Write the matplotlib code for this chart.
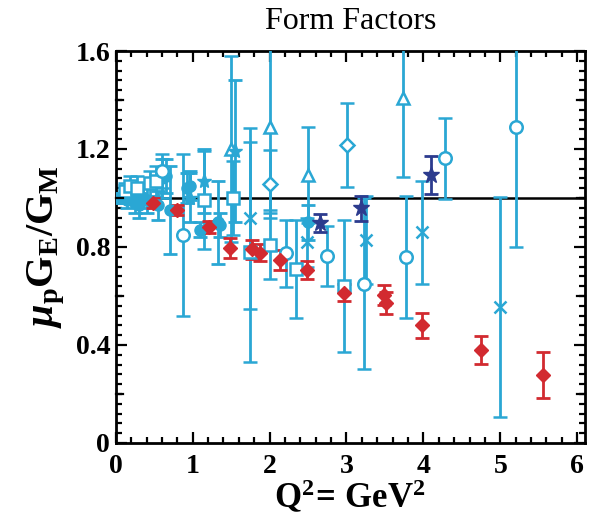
import numpy as np
import matplotlib.pyplot as plt
from matplotlib.ticker import MultipleLocator

plt.rcParams['font.family'] = ['Liberation Serif', 'DejaVu Serif']
plt.rcParams['mathtext.fontset'] = 'custom'
plt.rcParams['mathtext.rm'] = 'Liberation Serif:bold'
plt.rcParams['mathtext.it'] = 'Liberation Serif:italic:bold'
plt.rcParams['mathtext.bf'] = 'Liberation Serif:bold'

# recoil polarization (red diamonds)
red_q2 = [0.49, 0.79, 1.21, 1.49, 1.77, 1.88, 2.13, 2.48, 2.97, 3.49, 3.51, 3.98, 4.75, 5.55]
red_r = [0.98, 0.95, 0.88, 0.795, 0.79, 0.777, 0.747, 0.706, 0.613, 0.604, 0.571, 0.48, 0.38, 0.278]
red_err = [0.02, 0.02, 0.025, 0.04, 0.04, 0.035, 0.04, 0.035, 0.035, 0.04, 0.045, 0.05, 0.056, 0.093]

# dark blue stars
star_q2 = [2.65, 3.19, 4.10]
star_r = [0.899, 0.958, 1.094]
star_err = [0.037, 0.05, 0.078]

# cyan: filled circles
fc_q2 = [0.05, 0.10, 0.15, 0.20, 0.25, 0.30, 0.35, 0.40, 0.55, 0.60, 0.65, 0.70, 0.93, 0.97, 1.09, 1.33, 1.36, 2.50]
fc_r = [1.00, 1.00, 0.99, 1.01, 0.98, 0.97, 1.00, 0.99, 0.97, 1.08, 1.09, 0.95, 1.04, 1.05, 0.87, 0.90, 0.89, 0.90]
fc_err = [0.02, 0.02, 0.03, 0.03, 0.04, 0.05, 0.04, 0.05, 0.06, 0.08, 0.07, 0.18, 0.06, 0.06, 0.03, 0.17, 0.05, 0.07]

# cyan: open squares
sq_q2 = [0.12, 0.18, 0.28, 0.45, 0.52, 1.15, 1.52, 1.75, 2.00, 2.34, 2.97]
sq_r = [1.03, 1.05, 1.04, 1.06, 1.07, 0.99, 1.00, 0.78, 0.81, 0.71, 0.64]
sq_err = [0.03, 0.04, 0.05, 0.05, 0.06, 0.20, 0.15, 0.45, 0.14, 0.20, 0.27]

# cyan: open circles
oc_q2 = [0.60, 0.87, 2.21, 2.74, 3.23, 3.77, 4.28, 5.21]
oc_r = [1.11, 0.85, 0.775, 0.763, 0.65, 0.758, 1.162, 1.29]
oc_err = [0.07, 0.33, 0.137, 0.123, 0.35, 0.25, 0.165, 0.49]

# cyan: open triangles
tr_q2 = [1.50, 2.00, 2.50, 3.74]
tr_r = [1.20, 1.29, 1.094, 1.407]
tr_err = [0.38, 0.35, 0.195, 0.32]

# cyan: crosses
cx_q2 = [1.75, 2.48, 3.25, 3.98, 5.00]
cx_r = [0.917, 0.82, 0.83, 0.86, 0.556]
cx_err = [0.37, 0.10, 0.18, 0.21, 0.45]

# cyan: open diamonds
od_q2 = [2.00, 3.01]
od_r = [1.057, 1.216]
od_err = [0.14, 0.17]

# cyan: stars
cs_q2 = [0.97, 1.15, 1.55]
cs_r = [1.00, 1.07, 1.19]
cs_err = [0.10, 0.13, 0.29]

cyan = '#2aa7d4'
red = '#d22a30'
navy = '#2c3b8e'

fig = plt.figure(figsize=(6.03, 5.26), dpi=100)
ax = fig.add_axes([0.192, 0.158, 0.778, 0.745])

ax.axhline(1.0, color='black', lw=1.8, zorder=1)

eb = dict(capsize=5, elinewidth=2, capthick=2, ls='none', zorder=3)
ax.errorbar(fc_q2, fc_r, yerr=fc_err, fmt='o', color=cyan, ms=8, **eb)
ax.errorbar(sq_q2, sq_r, yerr=sq_err, fmt='s', color=cyan, mfc='white', mew=1.8, ms=8, **eb)
ax.errorbar(oc_q2, oc_r, yerr=oc_err, fmt='o', color=cyan, mfc='white', mew=1.8, ms=9, **eb)
ax.errorbar(tr_q2, tr_r, yerr=tr_err, fmt='^', color=cyan, mfc='white', mew=1.8, ms=9, **eb)
ax.errorbar(cx_q2, cx_r, yerr=cx_err, fmt='x', color=cyan, mew=1.8, ms=9, **eb)
ax.errorbar(od_q2, od_r, yerr=od_err, fmt='D', color=cyan, mfc='white', mew=1.8, ms=7, **eb)
ax.errorbar(cs_q2, cs_r, yerr=cs_err, fmt='*', color=cyan, ms=11, **eb)
ax.errorbar(red_q2, red_r, yerr=red_err, fmt='D', color=red, ms=7, **eb)
ax.errorbar(star_q2, star_r, yerr=star_err, fmt='*', color=navy, ms=12, **eb)

ax.set_xlim(0, 6.1)
ax.set_ylim(0, 1.6)
ax.set_xticks([0, 1, 2, 3, 4, 5, 6])
ax.set_yticks([0, 0.4, 0.8, 1.2, 1.6])
ax.set_yticklabels(['0', '0.4', '0.8', '1.2', '1.6'])
ax.xaxis.set_minor_locator(MultipleLocator(0.2))
ax.yaxis.set_minor_locator(MultipleLocator(0.04))
ax.tick_params(which='both', direction='in', top=True, right=True, width=1.6)
ax.tick_params(which='major', length=8, labelsize=20)
ax.tick_params(axis='x', which='major', pad=8)
ax.tick_params(axis='y', which='major', pad=4)
ax.tick_params(which='minor', length=4)
for lab in ax.get_xticklabels() + ax.get_yticklabels():
    lab.set_fontweight('bold')
for s in ax.spines.values():
    s.set_linewidth(2)

# mid-length ticks at every 0.2 on y
for yv in np.arange(0.2, 1.6, 0.4):
    ax.plot([0, 0.1], [yv, yv], color='black', lw=1.6, clip_on=False, zorder=4)
    ax.plot([6.0, 6.1], [yv, yv], color='black', lw=1.6, clip_on=False, zorder=4)

ax.set_title('Form Factors', fontsize=23, pad=16)
ax.set_xlabel(r'$\mathrm{Q^2\!=\,GeV^2}$', fontsize=25, labelpad=0)
ax.set_ylabel(r'$\mu_{\mathrm{p}}\mathrm{G}_{\mathrm{E}}/\mathrm{G}_{\mathrm{M}}$', fontsize=29, labelpad=6)

fig.savefig('out.png', dpi=100)
